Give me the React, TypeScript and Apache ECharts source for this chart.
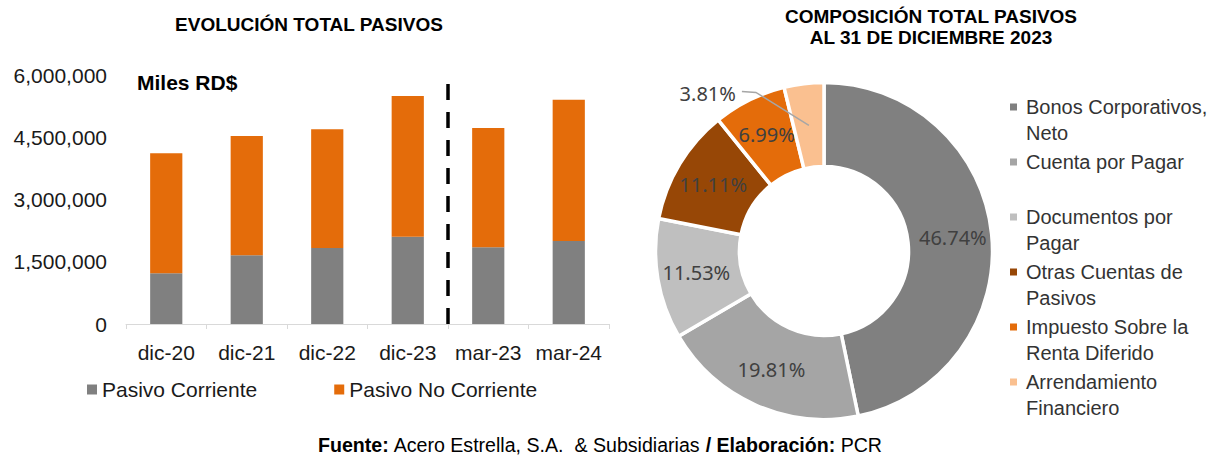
import React, { useEffect, useRef } from 'react';
import * as echarts from 'echarts';

// ---- Data ----
const categories = ['dic-20', 'dic-21', 'dic-22', 'dic-23', 'mar-23', 'mar-24'];
const pasivoCorriente = [1222000, 1655000, 1831000, 2104000, 1848000, 2000000];
const pasivoNoCorriente = [2891000, 2875000, 2860000, 3390000, 2875000, 3405000];
const yMin = 0;
const yMax = 6000000;
const yInterval = 1500000;
// dashed divider between dic-23 and mar-23 (category boundary index)
const dividerAt = 4;
const dividerTop = 5800000;

const pieNames = [
  'Bonos Corporativos, Neto',
  'Cuenta por Pagar',
  'Documentos por Pagar',
  'Otras Cuentas de Pasivos',
  'Impuesto Sobre la Renta Diferido',
  'Arrendamiento Financiero',
];
const pieValues = [46.74, 19.81, 11.53, 11.11, 6.99, 3.81];
const pieLegendLabels = [
  'Bonos Corporativos,\nNeto',
  'Cuenta por Pagar\n ',
  'Documentos por\nPagar',
  'Otras Cuentas de\nPasivos',
  'Impuesto Sobre la\nRenta Diferido',
  'Arrendamiento\nFinanciero',
];
const pieColors = ['#808080', '#a5a5a5', '#bfbfbf', '#974706', '#e46c0a', '#fac090'];
const barColors = ['#808080', '#e46c0a'];
const outsideLabelIndex = 5;

// ---- Layout ----
const CX = 824;
const CY = 251;
const R_IN = 84.5;
const R_OUT = 168.5;
const R_MID = (R_IN + R_OUT) / 2;
const FONT = "'Liberation Sans', Arial, sans-serif";

const LEGEND_ICON = 'path://M0,0L0.01,0M0,9.5L7,9.5L7,16.5L0,16.5ZM11,52L11.01,52';

// anchor of the outside label's leader line: middle of the ring at the slice's mid angle
function sliceMidPoint(index: number) {
  const total = pieValues.reduce((a, b) => a + b, 0);
  let before = 0;
  for (let i = 0; i < index; i++) before += pieValues[i];
  const frac = (before + pieValues[index] / 2) / total;
  const ang = frac * Math.PI * 2;
  return [CX + R_MID * Math.sin(ang), CY - R_MID * Math.cos(ang)];
}

export default function App() {
  const ref = useRef<HTMLDivElement>(null);

  useEffect(() => {
    if (!ref.current) return;
    const chart = echarts.init(ref.current, undefined, { renderer: 'svg' });

    const [ax, ay] = sliceMidPoint(outsideLabelIndex);

    const option: any = {
      animation: false,
      grid: { left: 126, right: 603, top: 75, bottom: 132, containLabel: false },
      xAxis: [
        {
          type: 'category',
          data: categories,
          axisLine: { lineStyle: { color: '#d9d9d9', width: 1 } },
          axisTick: { show: true, length: 5, lineStyle: { color: '#d9d9d9' } },
          axisLabel: { interval: 0, fontSize: 21, color: '#1a1a1a', margin: 18, fontFamily: FONT },
        },
        { type: 'value', min: 0, max: categories.length, show: false },
      ],
      yAxis: {
        type: 'value',
        min: yMin,
        max: yMax,
        interval: yInterval,
        splitLine: { show: false },
        axisLine: { show: false },
        axisTick: { show: false },
        axisLabel: {
          fontSize: 21,
          color: '#1a1a1a',
          margin: 19,
          fontFamily: FONT,
          formatter: (v: number) => v.toLocaleString('en-US'),
        },
      },
      legend: [
        {
          data: ['Pasivo Corriente', 'Pasivo No Corriente'],
          left: 87,
          top: 379,
          padding: 0,
          icon: 'rect',
          itemWidth: 10,
          itemHeight: 10,
          itemGap: 77,
          selectedMode: false,
          textStyle: { fontSize: 21, color: '#1a1a1a', fontFamily: FONT },
        },
        {
          data: pieNames,
          orient: 'vertical',
          left: 1010,
          top: 94,
          padding: 0,
          icon: LEGEND_ICON,
          itemWidth: 11,
          itemHeight: 52,
          itemGap: 3,
          selectedMode: false,
          itemStyle: { borderWidth: 0 },
          formatter: (name: string) => pieLegendLabels[pieNames.indexOf(name)],
          textStyle: { fontSize: 20, lineHeight: 26, color: '#333', fontFamily: FONT },
        },
      ],
      series: [
        {
          name: 'Pasivo Corriente',
          type: 'bar',
          stack: 'total',
          barWidth: '40%',
          xAxisIndex: 0,
          itemStyle: { color: barColors[0] },
          data: pasivoCorriente,
        },
        {
          name: 'Pasivo No Corriente',
          type: 'bar',
          stack: 'total',
          barWidth: '40%',
          xAxisIndex: 0,
          itemStyle: { color: barColors[1] },
          data: pasivoNoCorriente,
        },
        {
          name: 'divider',
          type: 'line',
          xAxisIndex: 1,
          symbol: 'none',
          silent: true,
          lineStyle: { color: '#000', width: 3.5, type: [16, 12] },
          data: [
            [dividerAt, 0],
            [dividerAt, dividerTop],
          ],
        },
        {
          name: 'Composición',
          type: 'pie',
          center: [CX, CY],
          radius: [R_IN, R_OUT],
          startAngle: 90,
          clockwise: true,
          avoidLabelOverlap: false,
          silent: true,
          itemStyle: { borderColor: '#fff', borderWidth: 3.5 },
          label: {
            show: true,
            position: 'inside',
            formatter: (p: any) => p.value.toFixed(2) + '%',
            fontSize: 20,
            fontFamily: "'Noto Sans', sans-serif",
            color: '#404040',
          },
          labelLine: { show: false },
          labelLayout: (p: any) => {
            if (p.dataIndex !== outsideLabelIndex) return {};
            return { x: ax - 73, y: ay - 32, align: 'right', verticalAlign: 'middle' };
          },
          data: pieNames.map((n, i) => ({
            name: n,
            value: pieValues[i],
            itemStyle: { color: pieColors[i] },
          })),
        },
      ],
      graphic: [
        {
          type: 'polyline',
          z: 100,
          silent: true,
          shape: {
            points: [
              [ax, ay],
              [ax - 53, ay - 33],
              [ax - 67, ay - 34],
            ],
          },
          style: { stroke: '#a6a6a6', lineWidth: 1.5, fill: null },
        },
        {
          type: 'text',
          x: 309,
          y: 24,
          style: {
            text: 'EVOLUCIÓN TOTAL PASIVOS',
            fontSize: 19,
            fontWeight: 'bold',
            fontFamily: FONT,
            fill: '#000',
            align: 'center',
            verticalAlign: 'middle',
          },
        },
        {
          type: 'text',
          x: 931,
          y: 27,
          style: {
            text: 'COMPOSICIÓN TOTAL PASIVOS\nAL 31 DE DICIEMBRE 2023',
            fontSize: 19,
            lineHeight: 21,
            fontWeight: 'bold',
            fontFamily: FONT,
            fill: '#000',
            align: 'center',
            verticalAlign: 'middle',
          },
        },
        {
          type: 'text',
          x: 137,
          y: 82,
          style: {
            text: 'Miles RD$',
            fontSize: 21,
            fontWeight: 'bold',
            fontFamily: FONT,
            fill: '#000',
            align: 'left',
            verticalAlign: 'middle',
          },
        },
        {
          type: 'text',
          x: 600,
          y: 445,
          style: {
            text: '{b|Fuente:} Acero Estrella, S.A.  & Subsidiarias {b|/ Elaboración:} PCR',
            fontSize: 19.6,
            fontFamily: FONT,
            fill: '#000',
            align: 'center',
            verticalAlign: 'middle',
            rich: {
              b: { fontSize: 19.6, fontWeight: 'bold', fontFamily: FONT, fill: '#000' },
            },
          },
        },
      ],
    };

    chart.setOption(option);
    return () => chart.dispose();
  }, []);

  return (
    <div
      ref={ref}
      style={{ position: 'fixed', left: 0, top: 0, width: 1212, height: 456, background: '#fff' }}
    />
  );
}
